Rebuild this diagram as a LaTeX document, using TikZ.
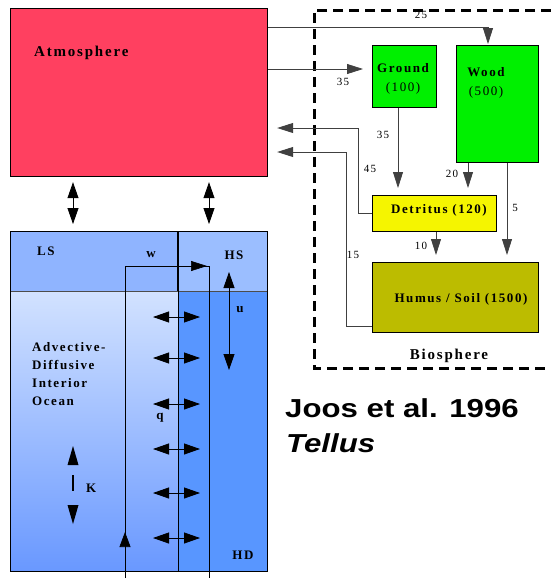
\documentclass[tikz,border=0pt]{standalone}
\usepackage{fontspec}
\setmainfont{Liberation Serif}
\newfontfamily\lab[LetterSpace=12]{Liberation Serif}
\newfontfamily\sansf{Liberation Sans}
\usetikzlibrary{arrows.meta}
\definecolor{atmc}{RGB}{255,64,96}
\definecolor{grn}{RGB}{0,240,0}
\definecolor{detc}{RGB}{245,245,0}
\definecolor{humc}{RGB}{188,188,0}
\definecolor{lsc}{RGB}{143,180,255}
\definecolor{hsc}{RGB}{155,190,255}
\definecolor{inttop}{RGB}{210,226,255}
\definecolor{intbot}{RGB}{105,152,255}
\definecolor{hdc}{RGB}{88,150,255}
\begin{document}
\begin{tikzpicture}[x=1pt,y=-1pt,
  box/.style={draw=black, line width=1.2pt, inner sep=0pt, anchor=north west},
  flow/.style={draw=black!75, line width=0.8pt, -{Triangle[length=16pt,width=10pt]}},
  dbl/.style={draw=black, line width=0.8pt, {Triangle[length=16pt,width=11pt]}-{Triangle[length=16pt,width=11pt]}},
  lbl/.style={font=\lab\bfseries\fontsize{13}{15}\selectfont, inner sep=0pt},
  num/.style={font=\lab\fontsize{11}{13}\selectfont, inner sep=0pt}]
\useasboundingbox (0,0) rectangle (551,582);
% Atmosphere
\node[box, fill=atmc, minimum width=257pt, minimum height=168pt] (atm) at (10,8) {};
\node[lbl, anchor=west, font=\lab\bfseries\fontsize{15}{17}\selectfont] (atmt) at (34,53) {Atmosphere};
% Biosphere frame
\draw[line width=3pt, dash pattern=on 10pt off 6pt] (551,10) -- (314,10) -- (314,368) -- (551,368);
\node[lbl, font=\lab\bfseries\fontsize{15}{17}\selectfont] (biot) at (449,356) {Biosphere};
% Biosphere boxes
\node[box, fill=grn, minimum width=64pt, minimum height=62pt] (ground) at (372,45) {};
\node[lbl, align=center, font=\lab\bfseries\fontsize{13}{19}\selectfont] (groundt) at (403,79) {Ground\\\mdseries(100)};
\node[box, fill=grn, minimum width=82pt, minimum height=117pt] (wood) at (456,45) {};
\node[lbl, align=center, font=\lab\bfseries\fontsize{13}{19}\selectfont] (woodt) at (486,83) {Wood\\\mdseries(500)};
\node[box, fill=detc, minimum width=124pt, minimum height=36pt] (detr) at (372,195) {};
\node[lbl] (detrt) at (439,210) {Detritus (120)};
\node[box, fill=humc, minimum width=166pt, minimum height=70pt] (hum) at (372,262) {};
\node[lbl] (humt) at (461,299) {Humus / Soil (1500)};
% flows
\coordinate (f25a) at (atm.east |- 0,27);
\coordinate (f25b) at (488,27);
\draw[flow, shorten >=1pt] (f25a) -- (f25b) -- (f25b |- wood.north);
\node[num] at (421,15) {25};
\draw[flow, shorten >=9pt] (atm.east |- 0,69) -- (ground.west |- 0,69);
\node[num] at (343,82) {35};
\draw[flow, shorten >=7pt] (ground.south -| 398,0) -- (detr.north -| 398,0);
\node[num] at (383,135) {35};
\draw[flow, shorten >=7pt] (wood.south -| 468,0) -- (detr.north -| 468,0);
\node[num] at (452,174) {20};
\draw[flow, shorten >=7pt] (wood.south -| 507,0) -- (hum.north -| 507,0);
\node[num] at (515,208) {5};
\draw[flow, shorten >=7pt] (detr.south -| 436,0) -- (hum.north -| 436,0);
\node[num] at (421,246) {10};
\coordinate (d1) at (358,213);
\coordinate (d2) at (358,128);
\draw[flow, shorten >=9pt] (detr.west |- d1) -- (d1) -- (d2) -- (atm.east |- d2);
\node[num] at (370,169) {45};
\coordinate (h1) at (346,326);
\coordinate (h2) at (346,152);
\draw[flow, shorten >=9pt] (hum.west |- h1) -- (h1) -- (h2) -- (atm.east |- h2);
\node[num] at (353,255) {15};
% Ocean
\fill[lsc] (10,231) rectangle (178,291);
\fill[hsc] (178,231) rectangle (267,291);
\shade[top color=inttop, bottom color=intbot] (10,291) rectangle (178,571);
\fill[hdc] (178,291) rectangle (267,571);
\draw[black!70, line width=0.6pt] (10,291) -- (267,291);
\draw[line width=1.8pt] (178,231) -- (178,291);
\draw[line width=0.7pt] (178,291) -- (178,571);
\node[box, minimum width=257pt, minimum height=340pt] (ocean) at (10,231) {};
% atm-ocean exchange
\draw[dbl] (atm.south -| 73,0) ++(0,5) -- (73,224);
\draw[dbl] (atm.south -| 209,0) ++(0,5) -- (209,224);
% w loop
\coordinate (w1) at (125,578);
\coordinate (w2) at (125,266);
\coordinate (w3) at (209,266);
\coordinate (w4) at (209,578);
\draw[line width=0.7pt] (w1) -- (w2) -- (w3) -- (w4);
\draw[line width=0.7pt, -{Triangle[length=15pt,width=11pt]}] (125,550) -- (125,532);
\draw[line width=0.7pt, -{Triangle[length=16pt,width=10pt]}] (185,266) -- (207,266);
% u
\draw[dbl] (229,272) -- (229,370);
% q exchange arrows
\foreach \yy in {317,358,404,449,493,538}
  \draw[dbl] (153,\yy) -- (200,\yy);
% K
\fill (73,446) -- (78.5,465) -- (67.5,465) -- cycle;
\draw[line width=2.5pt] (73,475) -- (73,491);
\fill (73,524) -- (78.5,505) -- (67.5,505) -- cycle;
% ocean labels
\node[lbl, anchor=west] (lst) at (37,251) {LS};
\node[lbl] (wt) at (151,255) {w};
\node[lbl] (hst) at (234,255) {HS};
\node[lbl] (ut) at (240,310) {u};
\node[lbl] (qt) at (160,418) {q};
\node[lbl, anchor=west] (kt) at (86,488) {K};
\node[lbl] (hdt) at (243,555) {HD};
\node[lbl, anchor=north west, align=left, font=\lab\bfseries\fontsize{13}{18}\selectfont] (advt) at (32,342) {Advective-\\Diffusive\\Interior\\Ocean};
% citation
\node[anchor=west, inner sep=0pt, font=\sansf\bfseries\fontsize{26}{30}\selectfont] (joos) at (285,408) {\scalebox{1.2}[1]{Joos et al. 1996}};
\node[anchor=west, inner sep=0pt, font=\sansf\bfseries\itshape\fontsize{26}{30}\selectfont] (tel) at (286,443) {\scalebox{1.2}[1]{Tellus}};
\end{tikzpicture}
\end{document}
